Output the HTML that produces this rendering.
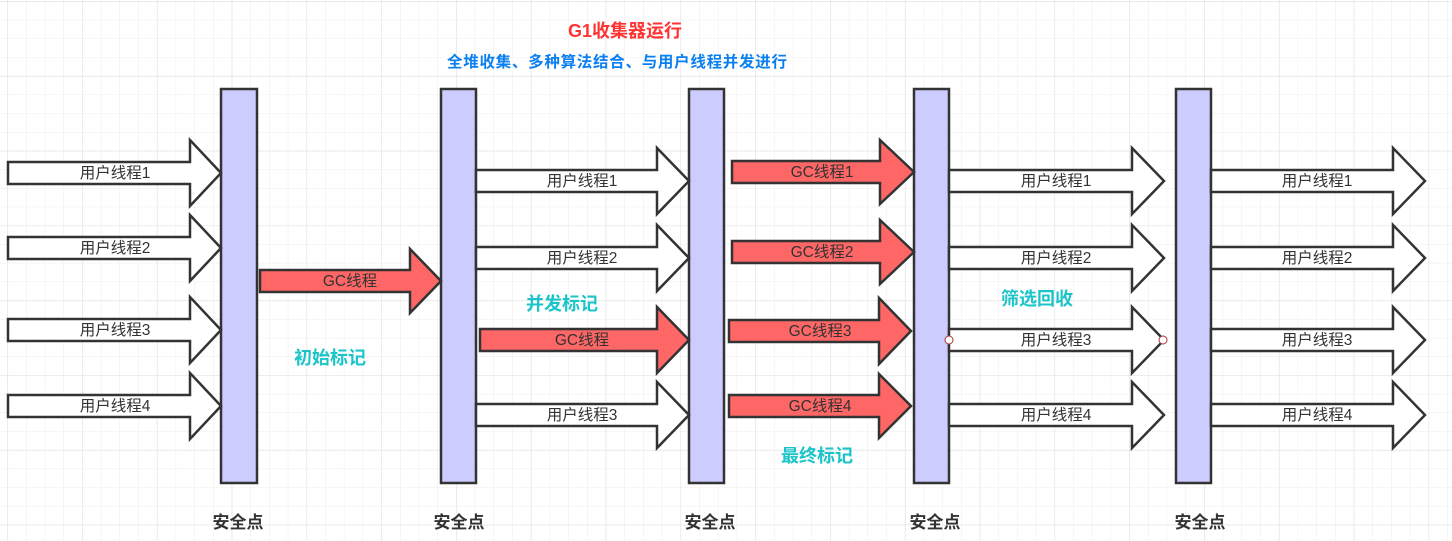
<!DOCTYPE html>
<html><head><meta charset="utf-8"><style>
html,body{margin:0;padding:0;background:#fff;}
svg{display:block;font-family:"Liberation Sans","Noto Sans CJK SC",sans-serif;}
</style></head><body>
<svg width="1452" height="541" viewBox="0 0 1452 541" xmlns="http://www.w3.org/2000/svg">
<defs>
<pattern id="g" x="7.3" y="1.1" width="18.7" height="18.7" patternUnits="userSpaceOnUse">
<path d="M0 0H18.7M0 0V18.7" stroke="#ececec" stroke-width="1" fill="none"/>
</pattern>
<pattern id="G" x="7.3" y="1.1" width="74.8" height="74.8" patternUnits="userSpaceOnUse">
<path d="M0 0H74.8M0 0V74.8" stroke="#e2e2e2" stroke-width="1.2" fill="none"/>
</pattern>
</defs>
<rect width="1452" height="541" fill="#fff"/>
<rect width="1452" height="541" fill="url(#g)"/>
<rect width="1452" height="541" fill="url(#G)"/>

<g stroke="#333" stroke-width="2.5" fill="#ccccff">
<rect x="221" y="89" width="36" height="394"/>
<rect x="441" y="89" width="35" height="394"/>
<rect x="689" y="89" width="35" height="394"/>
<rect x="914" y="89" width="35" height="394"/>
<rect x="1176" y="89" width="35" height="394"/>
</g>

<g stroke="#333" stroke-width="2.5" stroke-linejoin="miter">
<path fill="#fff" d="M8 162H190V140L221 173L190 206V184H8Z"/>
<path fill="#fff" d="M8 237H190V215L221 248L190 281V259H8Z"/>
<path fill="#fff" d="M8 319H190V297L221 330L190 363V341H8Z"/>
<path fill="#fff" d="M8 395H190V373L221 406L190 439V417H8Z"/>
<path fill="#ff6666" d="M260 270H410V249L441 281L410 313V292H260Z"/>
<path fill="#fff" d="M476 170H657V148L689 181L657 214V192H476Z"/>
<path fill="#fff" d="M476 247H657V225L689 258L657 291V269H476Z"/>
<path fill="#ff6666" d="M480 329H657V307L689 340L657 373V351H480Z"/>
<path fill="#fff" d="M476 404H657V382L689 415L657 448V426H476Z"/>
<path fill="#ff6666" d="M732 161H880V140L914 172L880 204V183H732Z"/>
<path fill="#ff6666" d="M732 241H880V220L914 252L880 284V263H732Z"/>
<path fill="#ff6666" d="M729 320H879V298L911 331L879 364V342H729Z"/>
<path fill="#ff6666" d="M729 395H879V374L911 406L879 438V417H729Z"/>
<path fill="#fff" d="M949 170H1132V148L1164 181L1132 214V192H949Z"/>
<path fill="#fff" d="M949 247H1132V225L1164 258L1132 291V269H949Z"/>
<path fill="#fff" d="M949 329H1132V307L1164 340L1132 373V351H949Z"/>
<path fill="#fff" d="M949 404H1132V382L1164 415L1132 448V426H949Z"/>
<path fill="#fff" d="M1211 170H1393V148L1425 181L1393 214V192H1211Z"/>
<path fill="#fff" d="M1211 247H1393V225L1425 258L1393 291V269H1211Z"/>
<path fill="#fff" d="M1211 329H1393V307L1425 340L1393 373V351H1211Z"/>
<path fill="#fff" d="M1211 404H1393V382L1425 415L1393 448V426H1211Z"/>
</g>

<g font-size="15.5" fill="#333" text-anchor="middle">
<text x="115" y="178">用户线程1</text>
<text x="115" y="253">用户线程2</text>
<text x="115" y="335">用户线程3</text>
<text x="115" y="411">用户线程4</text>
<text x="350" y="286">GC线程</text>
<text x="582" y="186">用户线程1</text>
<text x="582" y="263">用户线程2</text>
<text x="582" y="345">GC线程</text>
<text x="582" y="420">用户线程3</text>
<text x="822" y="177">GC线程1</text>
<text x="822" y="257">GC线程2</text>
<text x="820" y="336">GC线程3</text>
<text x="820" y="411">GC线程4</text>
<text x="1056" y="186">用户线程1</text>
<text x="1056" y="263">用户线程2</text>
<text x="1056" y="345">用户线程3</text>
<text x="1056" y="420">用户线程4</text>
<text x="1317" y="186">用户线程1</text>
<text x="1317" y="263">用户线程2</text>
<text x="1317" y="345">用户线程3</text>
<text x="1317" y="420">用户线程4</text>
</g>

<circle cx="949" cy="340" r="4" fill="#fff" stroke="#a33" stroke-width="1"/>
<circle cx="1163" cy="340" r="4" fill="#fff" stroke="#a33" stroke-width="1"/>

<g font-weight="bold" text-anchor="middle">
<text x="625" y="37" font-size="18" fill="#ff3333">G1收集器运行</text>
<text x="617" y="67" font-size="15.5" fill="#0a7ff0" textLength="340" lengthAdjust="spacing">全堆收集、多种算法结合、与用户线程并发进行</text>
<g font-size="18" fill="#1bc4c8">
<text x="330" y="364">初始标记</text>
<text x="562" y="310">并发标记</text>
<text x="1037" y="305">筛选回收</text>
<text x="817" y="462">最终标记</text>
</g>
<g font-size="17" fill="#333">
<text x="238" y="528">安全点</text>
<text x="459" y="528">安全点</text>
<text x="710" y="528">安全点</text>
<text x="935" y="528">安全点</text>
<text x="1200" y="528">安全点</text>
</g>
</g>
</svg>
</body></html>
